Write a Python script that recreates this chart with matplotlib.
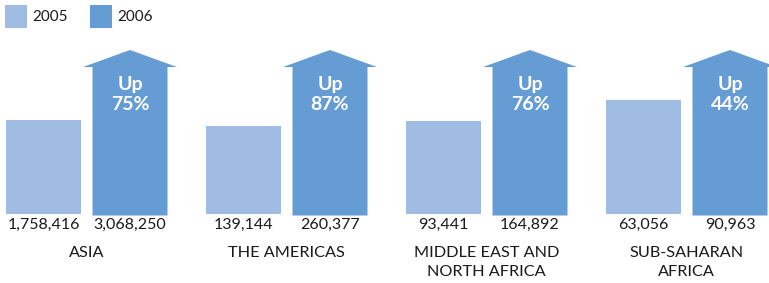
import matplotlib
matplotlib.use("Agg")
import matplotlib.pyplot as plt
from matplotlib.patches import Polygon, Rectangle
import numpy as np

plt.rcParams['font.family'] = ['Lato', 'DejaVu Sans']

regions = ['ASIA', 'THE AMERICAS', 'MIDDLE EAST AND\nNORTH AFRICA', 'SUB-SAHARAN\nAFRICA']
v2005 = [1758416, 139144, 93441, 63056]
v2006 = [3068250, 260377, 164892, 90963]
pct_up = [75, 87, 76, 44]
years = ['2005', '2006']

c05 = '#a1bce3'
c06 = '#669cd4'

W, H = 769, 283
fig = plt.figure(figsize=(W / 100, H / 100), dpi=100)
ax = fig.add_axes([0, 0, 1, 1])
# x: one unit = one 200px group; y: 1.0 = full height of the 2006 arrow
ppx = 200.0
ppy = 164.0
ax.set_xlim(0, W / ppx)
ax.set_ylim(-(H - 214) / ppy, 214 / ppy)
ax.axis('off')

bw = 75 / ppx
off05 = 6 / ppx
off06 = 92.5 / ppx
head_w = 94 / ppx
body_top = 147 / ppy

for i in range(len(regions)):
    x0 = i + off05
    x1 = i + off06
    # 2005 bar scaled relative to the 2006 arrow
    h05 = v2005[i] / v2006[i]
    ax.add_patch(Rectangle((x0, 0), bw, h05, color=c05, lw=0))
    # 2006 arrow
    cx = x1 + bw / 2
    pts = [(x1, -1.5 / ppy), (x1 + bw, -1.5 / ppy), (x1 + bw, body_top),
           (cx + head_w / 2, body_top), (cx, 1.0), (cx - head_w / 2, body_top),
           (x1, body_top)]
    ax.add_patch(Polygon(pts, closed=True, color=c06, lw=0))
    ax.text(cx, body_top - 9 / ppy, 'Up\n%d%%' % pct_up[i], color='white',
            fontsize=14, fontweight='bold', ha='center', va='top', linespacing=1.2)
    # values
    ax.text(x0 + bw / 2, -11 / ppy, format(v2005[i], ','), fontsize=11.5,
            ha='center', va='center', color='#1a1a1a')
    ax.text(cx, -11 / ppy, format(v2006[i], ','), fontsize=11.5,
            ha='center', va='center', color='#1a1a1a')
    # region label
    ax.text((x0 + x1 + bw) / 2, -32 / ppy, regions[i], fontsize=11.7,
            ha='center', va='top', color='#1a1a1a', linespacing=1.45)

# legend
for j, (lab, c) in enumerate(zip(years, [c05, c06])):
    lx = (5 + 85 * j) / ppx
    ax.add_patch(Rectangle((lx, (214 - 28) / ppy), 22 / ppx, 23 / ppy, color=c, lw=0))
    ax.text(lx + 27 / ppx, (214 - 17) / ppy, lab, fontsize=11, va='center',
            ha='left', color='#1a1a1a')

fig.savefig('out.png', dpi=100)
